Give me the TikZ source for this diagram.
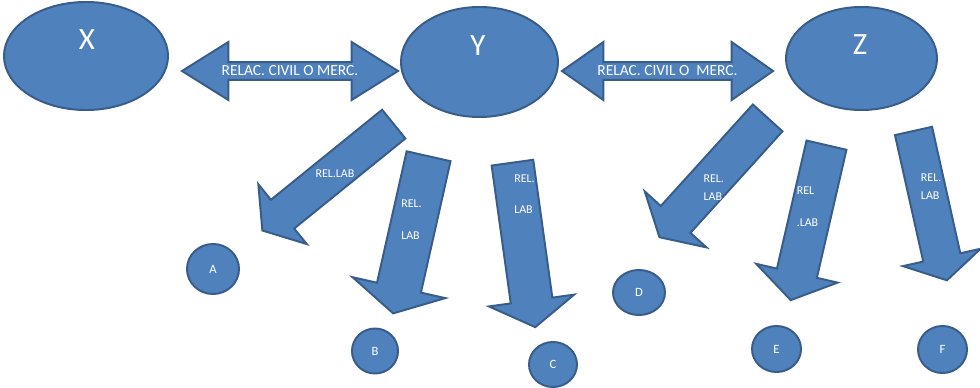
\documentclass[tikz,border=0pt]{standalone}
\usepackage{fontspec}
\setmainfont{Carlito}
\usepackage{xcolor}
\usepackage{tikz}
\usetikzlibrary{shapes.geometric, shapes.arrows}
\definecolor{partyblue}{RGB}{79,129,189}
\definecolor{partyline}{RGB}{56,93,138}
\tikzset{
    party/.style={ellipse, draw=partyline, line width=1.4pt, fill=partyblue, inner sep=0pt},
    worker/.style={ellipse, draw=partyline, line width=1.4pt, fill=partyblue, inner sep=0pt, text=white, font=\fontsize{9}{10}\selectfont},
    civil/.style={double arrow, draw=partyline, line width=1.4pt, fill=partyblue, text=white, font=\fontsize{11}{12}\selectfont, inner sep=0pt, minimum width=1.45cm, double arrow head extend=0.34cm, double arrow head indent=0pt},
    labArrow/.style={single arrow, draw=partyline, line width=1.4pt, fill=partyblue, inner sep=0pt, text depth=0pt, anchor=tail, single arrow head indent=0pt},
    tag/.style={text=white, font=\fontsize{8.5}{10}\selectfont, align=left, inner sep=0pt},
    letter/.style={text=white, font=\fontsize{22}{24}\selectfont}
}
\begin{document}
\begin{tikzpicture}[x=0.025cm, y=-0.025cm]
        \useasboundingbox[fill=white] (0,0) rectangle (980,388);

        \node[party, minimum width=4.1cm, minimum height=2.7cm] (X) at (86,56) {};
        \node[party, minimum width=3.925cm, minimum height=2.75cm] (Y) at (479.5,62) {};
        \node[party, minimum width=3.775cm, minimum height=2.575cm] (Z) at (861.5,58.5) {};
        \node[letter] (XName) at (87,40) {X};
        \node[letter] (YName) at (478,46) {Y};
        \node[letter] (ZName) at (860,45) {Z};

        \node[civil, minimum height=5.4cm, double arrow tip angle=64] (CivilXY) at (290,71) {RELAC. CIVIL O MERC.};
        \node[civil, minimum height=5.275cm, double arrow tip angle=70] (CivilYZ) at (667.5,71) {RELAC. CIVIL O\ \ MERC.};

        \node[labArrow, rotate=219, minimum height=4.225cm, text height=0.875cm, single arrow head extend=0.5cm, single arrow tip angle=112] (LabA) at (394.5,123.5) {};
        \node[labArrow, rotate=257.3, minimum height=4.025cm, text height=1.075cm, single arrow head extend=0.625cm, single arrow tip angle=122] (LabB) at (428.8,155.3) {};
        \node[labArrow, rotate=277.9, minimum height=4.15cm, text height=1cm, single arrow head extend=0.55cm, single arrow tip angle=116] (LabC) at (512.3,161.7) {};
        \node[labArrow, rotate=227.8, minimum height=4.025cm, text height=0.95cm, single arrow head extend=0.54cm, single arrow tip angle=120] (LabD) at (768.3,117.2) {};
        \node[labArrow, rotate=257, minimum height=3.975cm, text height=0.975cm, single arrow head extend=0.53cm, single arrow tip angle=113] (LabE) at (826.7,144.2) {};
        \node[labArrow, rotate=282.6, minimum height=3.825cm, text height=0.9cm, single arrow head extend=0.52cm, single arrow tip angle=119] (LabF) at (913.3,130) {};

        \node[tag] (TagA) at (335,174) {REL.LAB};
        \node[tag, anchor=west] (TagB) at (401,220) {REL.\\[12.8pt]LAB};
        \node[tag, anchor=west] (TagC) at (514,194.5) {REL.\\[12pt]LAB};
        \node[tag, anchor=west] (TagD) at (703.3,188) {REL.\\[2.6pt]LAB};
        \node[tag, anchor=west] (TagE) at (796.5,207) {REL\\[12.8pt].LAB};
        \node[tag, anchor=west] (TagF) at (920.7,186.5) {REL.\\[3pt]LAB};

        % workers
        \node[worker, minimum width=1.3cm, minimum height=1.25cm] (A) at (213,269) {A};
        \node[worker, minimum width=1.15cm, minimum height=1.125cm] (B) at (375,351) {B};
        \node[worker, minimum width=1.2cm, minimum height=1.125cm] (C) at (553,364.5) {C};
        \node[worker, minimum width=1.3cm, minimum height=1.125cm] (D) at (639,292.5) {D};
        \node[worker, minimum width=1.225cm, minimum height=1.15cm] (E) at (776.5,349) {E};
        \node[worker, minimum width=1.225cm, minimum height=1.175cm] (F) at (942.5,349.5) {F};
    \end{tikzpicture}
\end{document}
